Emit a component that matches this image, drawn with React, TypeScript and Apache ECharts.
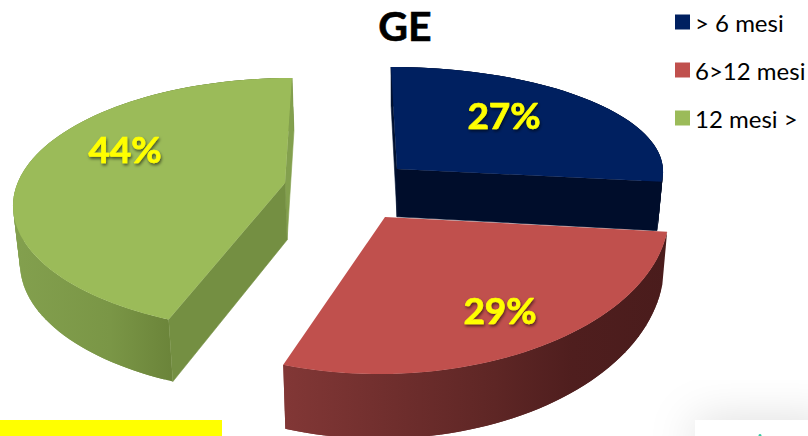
import React, { useEffect, useRef } from "react";
import * as echarts from "echarts";

const categories = ["> 6 mesi", "6>12 mesi", "12 mesi >"];
const shares = [27, 29, 44];
const titleText = "GE";

const FONT = "Lato, Carlito, 'Open Sans', sans-serif";
const faceColors = ["#002060", "#C0504D", "#9BBB59"];

// Faux-3D projection of each exploded slice (layout only, angles come from shares)
const projection = [
  { apex: [397, 169], e: [397, 169], u: [266, 0], w: [6, 102], k: 1, shift: 0, z: 2, label: [504, 114],
    h: [0.082, 34], x0: 390, x1: 665, wall: [[0, "#001030"], [1, "#000C28"]], inner: "#000D2B" },
  { apex: [385, 217], e: [385, 217], u: [284, -5], w: [3, 157], k: 1, shift: 0, z: 3, label: [500, 309],
    h: [0.082, 34], x0: 283, x1: 668, wall: [[0, "#823736"], [0.55, "#5E2625"], [0.75, "#4F1E1E"], [1, "#4A1C1C"]], inner: null },
  { apex: [285, 183], e: [290, 205], u: [277, 0], w: [-2, 127], k: 0.975, shift: 9, z: 1, label: [125, 148],
    h: [0.037, 50.2], x0: 13, x1: 175, wall: [[0, "#83A04E"], [0.6, "#7A9646"], [1, "#6A8339"]], inner: "#748F42" },
];

function renderSlice(params: any, api: any) {
  const i = params.seriesIndex;
  const g = projection[i];
  const depth = (p: number[]) => [p[0] + (400 - p[0]) * 0.018, p[1] + g.h[0] * p[1] + g.h[1]];
  const total = shares.reduce((a, b) => a + b, 0);
  const before = shares.slice(0, i).reduce((a, b) => a + b, 0);
  const t0 = (before / total) * 360;
  const t1 = t0 + (api.value(0) / total) * 360;
  const at = (t: number) => {
    const phi = ((t * g.k + g.shift) * Math.PI) / 180;
    const s = Math.sin(phi);
    const c = Math.cos(phi);
    return [g.e[0] + s * g.u[0] - c * g.w[0], g.e[1] + s * g.u[1] - c * g.w[1]];
  };
  const arc: number[][] = [];
  for (let t = t0; t < t1; t += 2) arc.push(at(t));
  arc.push(at(t1));
  const apexB = depth(g.apex);
  const children: any[] = [];
  // outer rim: overlapping swept quads so that the silhouette has no notch
  const rimFill = {
    type: "linear", x: g.x0, y: 0, x2: g.x1, y2: 0, global: true,
    colorStops: g.wall.map((s: any) => ({ offset: s[0], color: s[1] })),
  };
  for (let a = 0; a < arc.length - 1; a++) {
    const p = arc[a];
    const q = arc[Math.min(a + 2, arc.length - 1)];
    children.push({
      type: "polygon",
      shape: { points: [p, q, depth(q), depth(p)] },
      style: { fill: rimFill },
    });
  }
  // radial walls
  const startP = arc[0];
  const endP = arc[arc.length - 1];
  const wallOf = (p: number[], fill: string) => ({
    type: "polygon",
    shape: { points: [g.apex, p, depth(p), apexB] },
    style: { fill, stroke: fill, lineWidth: 0.6 },
  });
  if (i === 0) {
    children.push(wallOf(startP, "#001030"));
    children.push(wallOf(endP, g.inner as string));
  } else if (i === 2) {
    children.push(wallOf(endP, "#83A04E"));
    children.push(wallOf(startP, g.inner as string));
  }
  // top face
  children.push({
    type: "polygon",
    shape: { points: [g.apex, ...arc] },
    style: { fill: faceColors[i] },
  });
  children.push({
    type: "text",
    style: {
      x: g.label[0],
      y: g.label[1],
      text: api.value(0) + "%",
      fill: "#FFFF00",
      stroke: "#FFFF00",
      lineWidth: 0.7,
      font: `bold 37px ${FONT}`,
      align: "center",
      verticalAlign: "middle",
      textShadowColor: "rgba(0,0,0,0.55)",
      textShadowBlur: 3,
      textShadowOffsetX: 1,
      textShadowOffsetY: 2,
    },
  });
  return { type: "group", children };
}

export default function App() {
  const ref = useRef<HTMLDivElement>(null);
  useEffect(() => {
    document.body.style.margin = "0";
    const chart = echarts.init(ref.current!, null, { renderer: "svg" });
    chart.setOption({
      animation: false,
      backgroundColor: "#ffffff",
      title: {
        text: titleText,
        left: 400,
        top: 0,
        padding: 5,
        textAlign: "center",
        textStyle: { fontFamily: FONT, fontSize: 41, fontWeight: "bold", color: "#000", textBorderColor: "#000", textBorderWidth: 0.6 },
      },
      legend: {
        orient: "vertical",
        left: 675,
        top: 10,
        padding: 0,
        itemWidth: 15,
        itemHeight: 15,
        itemGap: 24,
        itemStyle: { borderWidth: 0 },
        icon: "rect",
        data: categories,
        selectedMode: false,
        textStyle: { fontFamily: FONT, fontSize: 24, color: "#000" },
      },
      series: categories.map((name, i) => ({
        type: "custom",
        name,
        coordinateSystem: "none",
        z: projection[i].z,
        silent: true,
        itemStyle: { color: faceColors[i] },
        data: [[shares[i]]],
        renderItem: renderSlice,
      })),
      graphic: [
        { type: "rect", z: 0, shape: { x: 695, y: 420, width: 140, height: 40 },
          style: { fill: "#fff", shadowBlur: 45, shadowColor: "rgba(0,0,0,0.14)" } },
        { type: "circle", z: 0, shape: { cx: 760, cy: 435.5, r: 1.5 }, style: { fill: "#35C9A0" } },
        { type: "rect", z: 0, shape: { x: 0, y: 420, width: 222, height: 16 }, style: { fill: "#FFFF00" } },
      ],
    });
    return () => chart.dispose();
  }, []);
  return <div ref={ref} style={{ width: 808, height: 436 }} />;
}
